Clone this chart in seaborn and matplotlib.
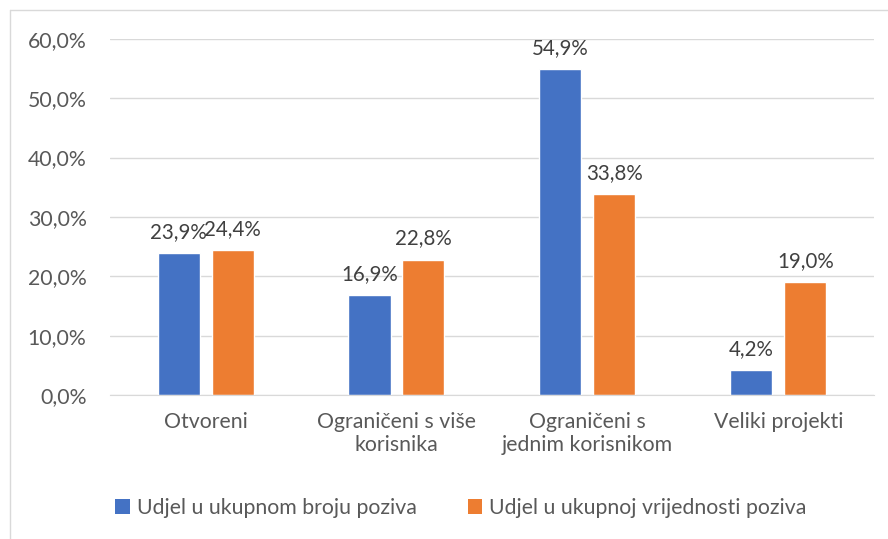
import pandas as pd
import numpy as np
import matplotlib.pyplot as plt
import seaborn as sns
from matplotlib.lines import Line2D
from matplotlib.patches import Patch

# data
categories = ["Otvoreni", "Ograničeni s više\nkorisnika", "Ograničeni s\njednim korisnikom", "Veliki projekti"]
series_names = ["Udjel u ukupnom broju poziva", "Udjel u ukupnoj vrijednosti poziva"]
broj = [23.9, 16.9, 54.9, 4.2]
vrijednost = [24.4, 22.8, 33.8, 19.0]
colors = ["#4472C4", "#ED7D31"]

df = pd.DataFrame({
    "Kategorija": categories * 2,
    "Serija": [series_names[0]] * 4 + [series_names[1]] * 4,
    "Udjel": broj + vrijednost,
})

sns.set_style("white")
plt.rcParams["font.family"] = ["Lato", "DejaVu Sans"]
fs = 15.3

fig = plt.figure(figsize=(8.88, 5.39), dpi=100)
ax = fig.add_axes([0.124, 0.267, 0.860, 0.661])

sns.barplot(data=df, x="Kategorija", y="Udjel", hue="Serija", palette=colors,
            width=0.565, gap=0.22, ax=ax, legend=False, saturation=1)

ax.set_ylim(0, 60)
ax.set_xlim(-0.5, 3.5)
ax.set_yticks(np.arange(0, 61, 10))
ax.set_yticklabels([f"{v:.1f}%".replace(".", ",") for v in np.arange(0, 61, 10)])
ax.yaxis.grid(True, color="#D9D9D9", linewidth=1)
ax.set_axisbelow(True)
for s in ["top", "right", "left"]:
    ax.spines[s].set_visible(False)
ax.spines["bottom"].set_color("#D9D9D9")
ax.set_xlabel("")
ax.set_ylabel("")
ax.tick_params(axis="both", length=0, labelsize=fs, colors="#595959")
ax.tick_params(axis="y", pad=17)
ax.tick_params(axis="x", pad=12)

# value labels
for cont in ax.containers:
    ax.bar_label(cont, labels=[f"{v:.1f}%".replace(".", ",") for v in cont.datavalues],
                 padding=8, fontsize=fs - 0.5, color="#404040")

# legend
handles = [Patch(facecolor=c, edgecolor="none") for c in colors]
fig.legend(handles, series_names, loc="center left", bbox_to_anchor=(0.118, 0.058),
           ncol=2, frameon=False, fontsize=fs, handlelength=0.7, handleheight=0.7,
           handletextpad=0.3, columnspacing=2.4, borderpad=0, labelcolor="#595959")

# chart border (top and left visible)
fig.add_artist(Line2D([10 / 888, 1], [1 - 10 / 539, 1 - 10 / 539], color="#D9D9D9", lw=1, transform=fig.transFigure))
fig.add_artist(Line2D([10 / 888, 10 / 888], [0, 1 - 10 / 539], color="#D9D9D9", lw=1, transform=fig.transFigure))

fig.savefig("out.png", dpi=100)
